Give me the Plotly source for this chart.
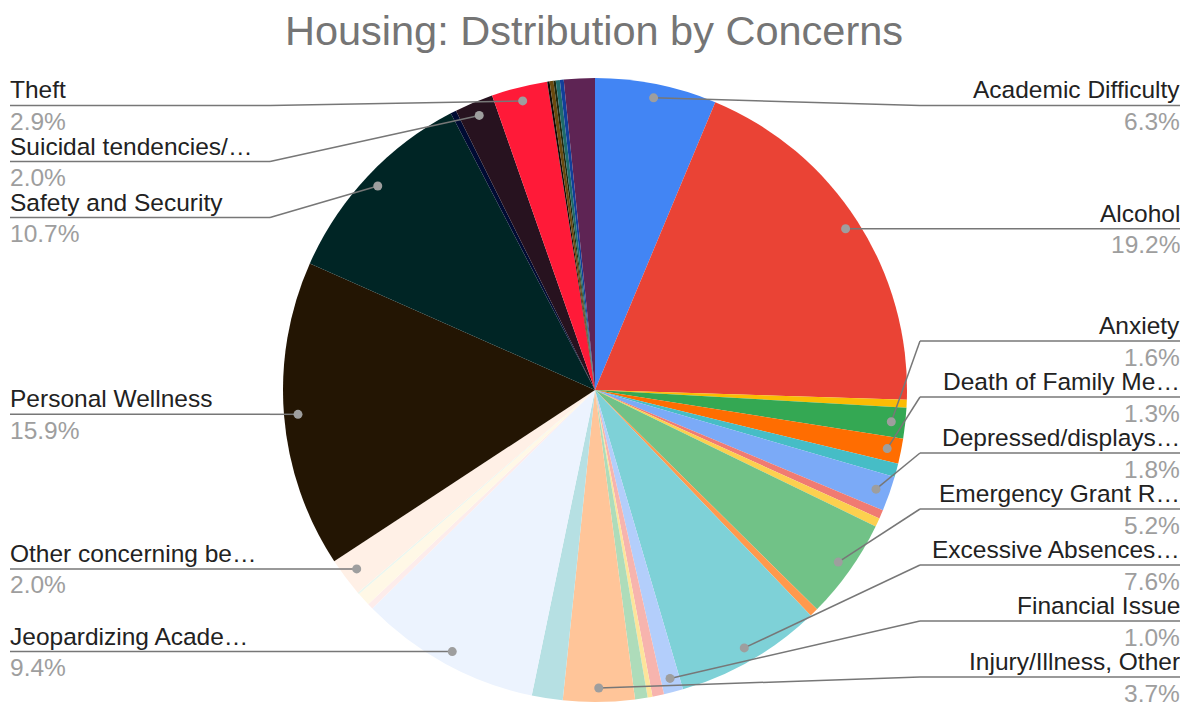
import math
import plotly.graph_objects as go

VIEW_W, VIEW_H = 1188, 703         # browser window
PAGE = 8                           # default body margin of the page
W, H = VIEW_W - 2 * PAGE, VIEW_H - PAGE
CX, CY, R = 595, 390, 312          # pie centre and radius, window pixels from top-left
DOT_R = 298                        # radius at which leader dots sit
GAP = 56                           # vertical room one label block needs
Y_TOP, Y_BOT = 105.5, 677          # allowed range for leader lines

concerns = [
    "Academic Difficulty", "Alcohol", "Alcohol/Drugs", "Anxiety",
    "Death of Family Me…", "Death of Friend", "Depressed/displays…",
    "Disruptive Behavior", "Drugs", "Emergency Grant R…", "Emotional Distress",
    "Excessive Absences…", "Financial Issue", "Food Insecurity", "Grief",
    "Homesickness", "Injury/Illness, Other", "Isolation", "Jeopardizing Acade…",
    "Legal Issue", "Medical", "Mental Health", "Other concerning be…",
    "Personal Wellness", "Safety and Security", "Sexual Misconduct",
    "Suicidal tendencies/…", "Theft", "Threat", "Title IX", "Transportation",
    "Unknown", "Visa/Immigration", "Wellness Check",
]
shares = [
    6.3, 19.2, 0.4, 1.6,
    1.3, 0.7, 1.8,
    0.45, 0.45, 5.2, 0.45,
    7.6, 1.0, 0.6, 0.25,
    0.65, 3.7, 1.6, 9.4,
    0.3, 0.7, 0.1, 2.0,
    15.9, 10.7, 0.3,
    2.0, 2.9, 0.12, 0.2, 0.12,
    0.21, 0.2, 1.6,
]
colors = [
    "#4285F4", "#EA4335", "#FBBC04", "#34A853",
    "#FF6D01", "#46BDC6", "#7BAAF7",
    "#F07B72", "#FCD04F", "#71C287", "#FF994D",
    "#7ED1D7", "#B3CEFB", "#F7B4AE", "#FDE49B",
    "#AEDCBA", "#FFC599", "#B6E0E3", "#ECF3FE",
    "#FDECEB", "#FFF8E6", "#EBF6EE", "#FFF0E6",
    "#231503", "#002525", "#000B33",
    "#27121F", "#FF1A38", "#120A06", "#6A4A0F", "#1F2A10",
    "#1F6B6B", "#123F9A", "#5E2454",
]
# slices whose label fits in the chart
labelled = {
    "Academic Difficulty", "Alcohol", "Anxiety", "Death of Family Me…",
    "Depressed/displays…", "Emergency Grant R…", "Excessive Absences…",
    "Financial Issue", "Injury/Illness, Other", "Jeopardizing Acade…",
    "Other concerning be…", "Personal Wellness", "Safety and Security",
    "Suicidal tendencies/…", "Theft",
}


def px(x, y):
    """Window pixel position (top-left origin) to paper coordinates."""
    return (x - PAGE) / W, 1 - (y - PAGE) / H


def spread(items):
    """Push label lines apart so blocks do not overlap (top-down, then bottom-up)."""
    items.sort(key=lambda d: d["dot_y"])
    prev = Y_TOP - GAP
    for d in items:
        d["line_y"] = max(d["dot_y"], prev + GAP)
        prev = d["line_y"]
    nxt = Y_BOT + GAP
    for d in reversed(items):
        d["line_y"] = min(d["line_y"], nxt - GAP)
        nxt = d["line_y"]
    return items


total = sum(shares)
right, left = [], []
cum = 0.0
for name, v in zip(concerns, shares):
    mid = (cum + v / 2) / total * 2 * math.pi
    cum += v
    if name not in labelled:
        continue
    d = dict(name=name, pct=f"{v / total * 100:.1f}%",
             dot_x=CX + DOT_R * math.sin(mid), dot_y=CY - DOT_R * math.cos(mid))
    (right if math.degrees(mid) < 180 else left).append(d)

dx0, dy1 = px(CX - R, CY - R)
dx1, dy0 = px(CX + R, CY + R)
fig = go.Figure(go.Pie(
    labels=concerns, values=shares, sort=False, direction="clockwise", rotation=0,
    marker=dict(colors=colors, line=dict(width=0)), textinfo="none",
    hovertemplate="%{label}: %{percent}<extra></extra>",
    domain=dict(x=[dx0, dx1], y=[max(dy0, 0), dy1]),
))

shapes, notes = [], []
line_style = dict(color="#777777", width=1.5)
for items, elbow, end, text_x, anchor in ((right, 920, 1180, 1182, "right"),
                                          (left, 270, 10, 8, "left")):
    for d in spread(items):
        x0, y0 = px(d["dot_x"], d["dot_y"])
        x1, y1 = px(elbow, d["line_y"])
        x2, _ = px(end, d["line_y"])
        tx, _ = px(text_x, 0)
        shapes.append(dict(type="line", xref="paper", yref="paper",
                           x0=x0, y0=y0, x1=x1, y1=y1, line=line_style, layer="above"))
        shapes.append(dict(type="line", xref="paper", yref="paper",
                           x0=x1, y0=y1, x1=x2, y1=y1, line=line_style, layer="above"))
        shapes.append(dict(type="circle", xref="paper", yref="paper",
                           xsizemode="pixel", ysizemode="pixel",
                           xanchor=x0, yanchor=y0, x0=-4.5, x1=4.5, y0=-4.5, y1=4.5,
                           fillcolor="#9E9E9E", line=dict(width=0), layer="above"))
        _, ty = px(0, d["line_y"] - 15.5)
        _, py = px(0, d["line_y"] + 16)
        notes.append(dict(x=tx, y=ty, xref="paper", yref="paper", text=d["name"],
                          showarrow=False, xanchor=anchor, yanchor="middle",
                          font=dict(size=24.5, color="#222222")))
        notes.append(dict(x=tx, y=py, xref="paper", yref="paper", text=d["pct"],
                          showarrow=False, xanchor=anchor, yanchor="middle",
                          font=dict(size=24.5, color="#9E9E9E")))

_, title_y = px(0, 30)
fig.update_layout(
    width=W, height=H, showlegend=False,
    paper_bgcolor="white", plot_bgcolor="white",
    margin=dict(l=0, r=0, t=0, b=0),
    font=dict(family="Arial, Liberation Sans, sans-serif"),
    title=dict(text="Housing: Dstribution by Concerns", x=0.5, xanchor="center",
               y=title_y, yanchor="middle",
               font=dict(size=41.5, color="#757575")),
    shapes=shapes, annotations=notes,
)
fig.write_html("out.html")
